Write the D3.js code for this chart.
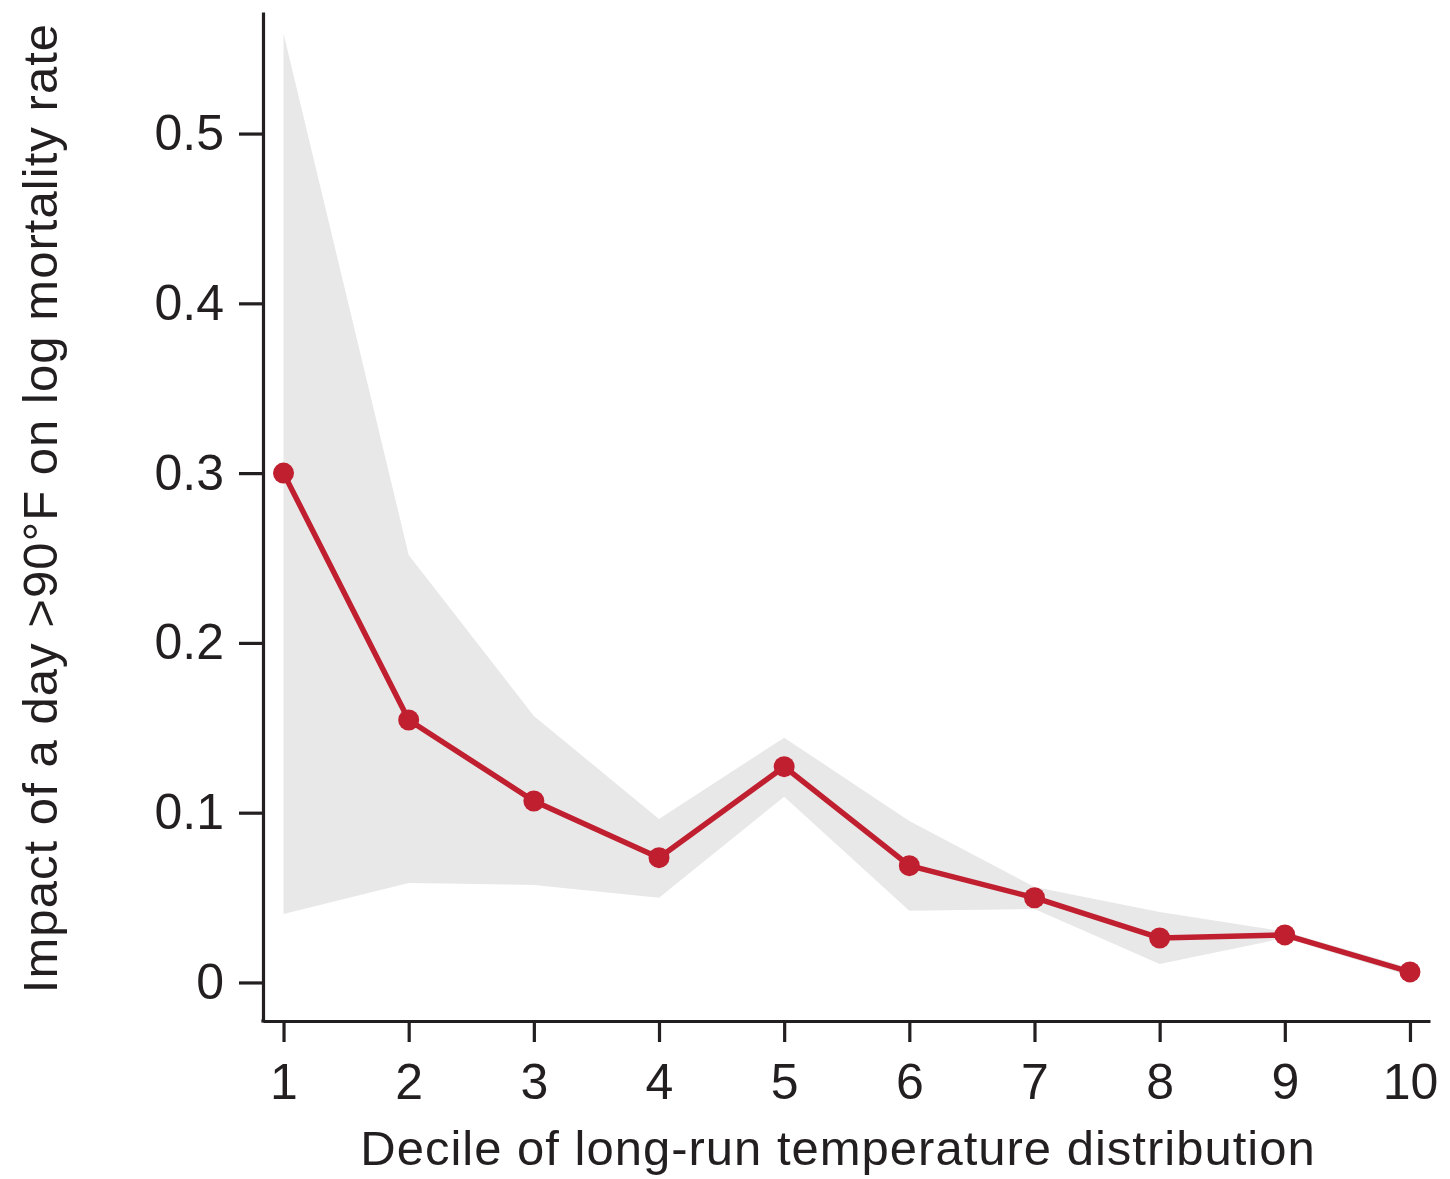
<!DOCTYPE html>
<html>
<head>
<meta charset="utf-8">
<script src="https://cdn.jsdelivr.net/npm/d3@7"></script>
<style>
  html, body { margin: 0; padding: 0; background: #fff; }
  svg { display: block; }
  text { font-family: "Liberation Sans", Arial, Helvetica, sans-serif; fill: #231f20; }
</style>
</head>
<body>
<svg id="chart" width="1450" height="1179"></svg>
<script>
const deciles = [1, 2, 3, 4, 5, 6, 7, 8, 9, 10];
const estimate = [0.300, 0.1546, 0.1069, 0.0735, 0.1271, 0.0688, 0.0499, 0.0262, 0.0280, 0.0062];
const upperCI = [0.559, 0.2518, 0.157, 0.0963, 0.1442, 0.0951, 0.0562, 0.0415, 0.030, 0.0085];
const lowerCI = [0.0403, 0.0586, 0.0574, 0.0499, 0.1094, 0.0423, 0.0433, 0.0109, 0.0262, 0.0038];
const yTicks = [0, 0.1, 0.2, 0.3, 0.4, 0.5];
const yTickLabels = ["0", "0.1", "0.2", "0.3", "0.4", "0.5"];
const xTickLabels = ["1", "2", "3", "4", "5", "6", "7", "8", "9", "10"];
const xTitle = "Decile of long-run temperature distribution";
const yTitle = "Impact of a day >90°F on log mortality rate";

const data = deciles.map((d, i) => ({ d, est: estimate[i], lo: lowerCI[i], hi: upperCI[i] }));

const svg = d3.select("#chart");
const axisColor = "#231f20";
const lineColor = "#c01f30";

const x = d3.scaleLinear().domain([0.836, 10.16]).range([263, 1430]);
const y = d3.scaleLinear().domain([-0.0227, 0.5716]).range([1021, 12]);

// CI band
svg.append("path")
  .datum(data)
  .attr("fill", "#e8e8e8")
  .attr("d", d3.area().x(p => x(p.d)).y0(p => y(p.lo)).y1(p => y(p.hi)));

// Y axis
const yAxis = svg.append("g")
  .attr("transform", "translate(263,0)")
  .call(d3.axisLeft(y).tickValues(yTicks).tickFormat((v, i) => yTickLabels[i]).tickSize(24).tickSizeOuter(0).tickPadding(15));
// X axis
const xAxis = svg.append("g")
  .attr("transform", "translate(0,1021)")
  .call(d3.axisBottom(x).tickValues(deciles).tickFormat((v, i) => xTickLabels[i]).tickSize(21).tickSizeOuter(0).tickPadding(21));

[yAxis, xAxis].forEach(g => {
  g.select(".domain").attr("stroke", axisColor).attr("stroke-width", 3.2);
  g.selectAll(".tick line").attr("stroke", axisColor).attr("stroke-width", 3.2);
  g.selectAll(".tick text").attr("font-size", 50).attr("fill", axisColor)
    .style("font-family", '"Liberation Sans", Arial, Helvetica, sans-serif');
});
// join axes at the corner
svg.append("line").attr("x1", 261.4).attr("x2", 264.6).attr("y1", 1021).attr("y2", 1021)
  .attr("stroke", axisColor).attr("stroke-width", 3.2);

// Estimate line
svg.append("path")
  .datum(data)
  .attr("fill", "none")
  .attr("stroke", lineColor)
  .attr("stroke-width", 5.5)
  .attr("stroke-linejoin", "round")
  .attr("d", d3.line().x(p => x(p.d)).y(p => y(p.est)));

svg.append("g").selectAll("circle")
  .data(data)
  .join("circle")
  .attr("cx", p => x(p.d))
  .attr("cy", p => y(p.est))
  .attr("r", 10.5)
  .attr("fill", lineColor);

// Titles
svg.append("text")
  .attr("x", 838).attr("y", 1165)
  .attr("text-anchor", "middle")
  .attr("font-size", 49)
  .attr("letter-spacing", 1)
  .text(xTitle);

svg.append("text")
  .attr("transform", "translate(57,508) rotate(-90)")
  .attr("text-anchor", "middle")
  .attr("font-size", 49)
  .attr("letter-spacing", 1.05)
  .text(yTitle);
</script>
</body>
</html>
